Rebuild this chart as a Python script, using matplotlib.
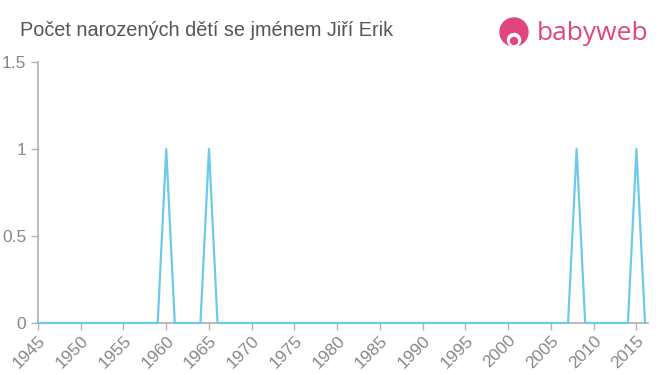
import matplotlib
matplotlib.use("Agg")
import matplotlib.pyplot as plt
from matplotlib.patches import Circle

plt.rcParams["font.family"] = ["Liberation Sans", "DejaVu Sans"]

years = list(range(1945, 2017))
peak_years = [1960, 1965, 2008, 2015]
counts = [1 if y in peak_years else 0 for y in years]
xticks = list(range(1945, 2016, 5))
yticks = [0, 0.5, 1, 1.5]
ytick_labels = ["0", "0.5", "1", "1.5"]
title = "Počet narozených dětí se jménem Jiří Erik"

fig = plt.figure(figsize=(6.6, 3.75), dpi=100)
ax = fig.add_axes([38/660, 52/375, (648-38)/660, (323-62)/375])
ax.plot(years, counts, color="#6ccbea", lw=1.6, clip_on=False, zorder=3)
ax.set_xlim(1945, 2016.35)
ax.set_ylim(0, 1.5)
ax.set_xticks(xticks)
ax.set_xticklabels([str(x) for x in xticks], rotation=45, ha="right", va="top",
                   rotation_mode="anchor")
ax.set_yticks(yticks)
ax.set_yticklabels(ytick_labels)
for s in ["top", "right"]:
    ax.spines[s].set_visible(False)
for s in ["left", "bottom"]:
    ax.spines[s].set_color("#b5b5b5")
    ax.spines[s].set_linewidth(1.3)
ax.tick_params(axis="both", colors="#b5b5b5", labelcolor="#888888", labelsize=12.5,
               length=5, width=1)
ax.tick_params(axis="x", pad=2)

fig.text(20/660, 1 - 31/375, title, fontsize=14.3, color="#555555", va="center", ha="left")

# logo
pink = "#e0457f"
logo_ax = fig.add_axes([0, 0, 1, 1], facecolor="none")
logo_ax.set_xlim(0, 660)
logo_ax.set_ylim(375, 0)
logo_ax.axis("off")
logo_ax.add_patch(Circle((514, 32), 14, color=pink))
logo_ax.add_patch(Circle((514, 40), 6.5, color="white"))
logo_ax.add_patch(Circle((514, 41), 3.5, color=pink))
logo_ax.text(537, 33, "babyweb", fontsize=19, color=pink, va="center", ha="left",
             family=["Open Sans", "DejaVu Sans"], fontweight="medium")

fig.savefig("out.png", dpi=100)
